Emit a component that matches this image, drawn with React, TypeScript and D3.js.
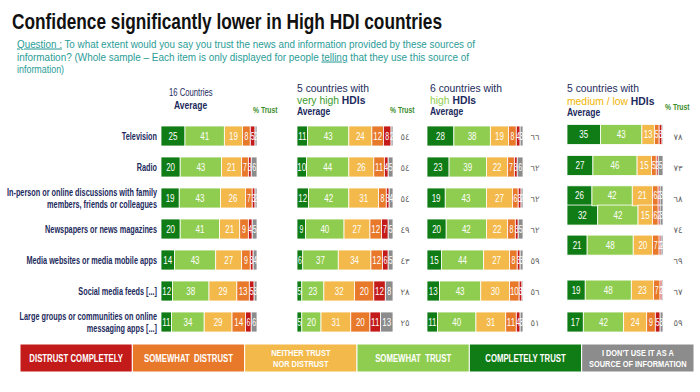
import React from "react";
import * as d3 from "d3";

// ---- data ----
const categories = [
  "Television",
  "Radio",
  "In-person or online discussions with family members, friends or colleagues",
  "Newspapers or news magazines",
  "Media websites or media mobile apps",
  "Social media feeds [...]",
  "Large groups or communities on online messaging apps [...]",
];
const categoryLines = [
  ["Television"],
  ["Radio"],
  ["In-person or online discussions with family", "members, friends or colleagues"],
  ["Newspapers or news magazines"],
  ["Media websites or media mobile apps"],
  ["Social media feeds [...]"],
  ["Large groups or communities on online", "messaging apps [...]"],
];

// completely trust, somewhat trust, neither, somewhat distrust, distrust completely, don't use
const responses = [
  "Completely trust",
  "Somewhat trust",
  "Neither trust nor distrust",
  "Somewhat distrust",
  "Distrust completely",
  "I don't use it as a source of information",
];

const all16 = [
  [25, 41, 19, 8, 5, 2],
  [20, 43, 21, 7, 3, 6],
  [19, 43, 26, 7, 3, 2],
  [20, 41, 21, 9, 4, 5],
  [14, 43, 27, 9, 3, 4],
  [12, 38, 29, 13, 5, 3],
  [11, 34, 29, 14, 6, 6],
];
const veryHigh = [
  [11, 43, 24, 12, 8, 2],
  [10, 44, 26, 11, 4, 5],
  [12, 42, 31, 8, 3, 4],
  [9, 40, 27, 12, 7, 5],
  [6, 37, 34, 12, 6, 5],
  [5, 23, 32, 20, 12, 8],
  [5, 20, 31, 20, 11, 13],
];
const high = [
  [28, 38, 19, 8, 4, 3],
  [23, 39, 22, 7, 3, 6],
  [19, 43, 27, 6, 3, 2],
  [20, 42, 22, 8, 3, 5],
  [15, 44, 27, 8, 3, 3],
  [13, 43, 30, 10, 3, 1],
  [11, 40, 31, 11, 4, 3],
];
const mediumLow = [
  [35, 43, 13, 5, 3, 1],
  [27, 46, 15, 5, 2, 5],
  [26, 42, 21, 6, 2, 3],
  [32, 42, 15, 6, 2, 3],
  [21, 48, 20, 7, 2, 2],
  [19, 48, 23, 7, 2, 1],
  [17, 42, 24, 9, 5, 3],
];
const trustVeryHigh = [54, 54, 54, 49, 43, 28, 25];
const trustHigh = [66, 62, 62, 62, 59, 56, 51];
const trustMediumLow = [78, 73, 68, 74, 69, 67, 59];

const legendLabels = [
  ["DISTRUST COMPLETELY"],
  ["SOMEWHAT  DISTRUST"],
  ["NEITHER TRUST", "NOR DISTRUST"],
  ["SOMEWHAT  TRUST"],
  ["COMPLETELY TRUST"],
  ["I DON'T USE IT AS A", "SOURCE OF INFORMATION"],
];

// ---- styling ----
const colors = ["#107c15", "#8fcd50", "#f3b94a", "#e8792a", "#c31a1a", "#8c8c8c"];
const legendOrder = [4, 3, 2, 1, 0, 5];
const navy = "#1c2a5c";
const teal = "#2a9c97";
const sans = "'Liberation Sans', Arial, sans-serif";

const W = 700;
const H = 392;
const barW = 96;
const barH = 20;

// the medium/low panel in the slide has its lower bars slightly out of step
const p4Shift = [-0.05, -0.05, -0.07, -0.45, -0.48, -0.03, 0];

const toArabic = (n: number) =>
  String(n).replace(/\d/g, (d) => "٠١٢٣٤٥٦٧٨٩"[+d]);

const panels = [
  { values: all16, trust: null as number[] | null, x0: 161, trustX: 0, shift: null as number[] | null },
  { values: veryHigh, trust: trustVeryHigh, x0: 297, trustX: 405, shift: null },
  { values: high, trust: trustHigh, x0: 427, trustX: 535, shift: null },
  { values: mediumLow, trust: trustMediumLow, x0: 567, trustX: 678, shift: p4Shift },
];

// condensed text: the slide uses a narrow face, so squeeze horizontally
function CText({ x, y, sx = 0.8, children, ...rest }: any) {
  return (
    <text transform={`translate(${x},${y}) scale(${sx},1)`} {...rest}>
      {children}
    </text>
  );
}

export default function App() {
  const y = d3.scalePoint<string>().domain(categories).range([136, 322]);
  const step = y.step();
  const stack = d3
    .stack<number[], number>()
    .keys(d3.range(responses.length))
    .value((d, k) => d[k]);

  const legendX = d3
    .scaleBand<number>()
    .domain(d3.range(legendOrder.length))
    .range([20, 694]);

  return (
    <svg
      width={W}
      height={H}
      style={{ position: "absolute", left: 0, top: 0, background: "#fff" }}
    >
      <text x={12} y={29} fontFamily={sans} fontWeight="bold" fontSize={22} fill="#111"
        textLength={430} lengthAdjust="spacingAndGlyphs">
        Confidence significantly lower in High HDI countries
      </text>
      <g fontFamily={sans} fontSize={10.5} fill={teal}>
        <text x={17} y={47.5} textLength={458} lengthAdjust="spacingAndGlyphs">
          <tspan textDecoration="underline">Question :</tspan> To what extent would you say you trust the news and information provided by these sources of
        </text>
        <text x={17} y={60.5} textLength={452} lengthAdjust="spacingAndGlyphs">
          information? (Whole sample – Each item is only displayed for people <tspan textDecoration="underline">telling</tspan> that they use this source of
        </text>
        <CText x={17} y={73} sx={0.85}>information)</CText>
      </g>

      {/* panel headers */}
      <g fontFamily={sans} fill={navy}>
        <CText x={169} y={96} sx={0.7} fontSize={11}>16 Countries</CText>
        <CText x={174} y={109} sx={0.85} fontSize={10} fontWeight="bold">Average</CText>

        <CText x={297} y={92} sx={0.9} fontSize={11.5}>5 countries with</CText>
        <CText x={297} y={104} sx={0.9} fontSize={11.5}>
          <tspan fill="#3a9a2a">very high </tspan>
          <tspan fontWeight="bold">HDIs</tspan>
        </CText>
        <CText x={297} y={115} sx={0.85} fontSize={10} fontWeight="bold">Average</CText>

        <CText x={430} y={92} sx={0.9} fontSize={11.5}>6 countries with</CText>
        <CText x={430} y={104} sx={0.9} fontSize={11.5}>
          <tspan fill="#8fcd50">high </tspan>
          <tspan fontWeight="bold">HDIs</tspan>
        </CText>
        <CText x={430} y={115} sx={0.85} fontSize={10} fontWeight="bold">Average</CText>

        <CText x={567} y={92} sx={0.9} fontSize={11.5}>5 countries with</CText>
        <CText x={567} y={105} sx={0.9} fontSize={11.5}>
          <tspan fill="#f0b400">medium / low </tspan>
          <tspan fontWeight="bold">HDIs</tspan>
        </CText>
        <CText x={567} y={116} sx={0.85} fontSize={10} fontWeight="bold">Average</CText>
      </g>
      <g fontFamily={sans} fontSize={8.5} fontWeight="bold" fill="#3b8c2b">
        <CText x={253} y={113} sx={0.8}>% Trust</CText>
        <CText x={390} y={113} sx={0.8}>% Trust</CText>
        <CText x={665} y={110} sx={0.8}>% Trust</CText>
      </g>

      {/* row labels */}
      <g fontFamily={sans} fontSize={10} fontWeight="bold" fill={navy} textAnchor="end">
        {categories.map((c, i) => {
          const lines = categoryLines[i];
          const cy = y(c)!;
          return lines.map((l, j) => (
            <CText key={c + j} x={157} y={cy + 3.5 + (j - (lines.length - 1) / 2) * 12} sx={0.73}>
              {l}
            </CText>
          ));
        })}
      </g>

      {/* bars */}
      {panels.map((p, pi) => {
        const x = d3.scaleLinear().domain([0, 100]).range([p.x0, p.x0 + barW]);
        const series = stack(p.values);
        return (
          <g key={pi}>
            {series.map((s, k) => (
              <g key={k}>
                {s.map((d, i) => {
                  const cy = y(categories[i])! + (p.shift ? p.shift[i] * step : 0);
                  const x0 = x(d[0]);
                  const x1 = x(d[1]);
                  return (
                    <g key={i}>
                      <rect
                        x={x0}
                        y={cy - barH / 2}
                        width={Math.max(0, x1 - x0)}
                        height={barH}
                        fill={colors[k]}
                        stroke="#fff"
                        strokeWidth={0.8}
                      />
                      <CText
                        x={(x0 + x1) / 2}
                        y={cy + 3.6}
                        sx={p.values[i][k] < 10 ? 0.7 : 0.8}
                        textAnchor="middle"
                        fontFamily={sans}
                        fontSize={10}
                        fill="#fff"
                      >
                        {p.values[i][k]}
                      </CText>
                    </g>
                  );
                })}
              </g>
            ))}
            {p.trust &&
              p.trust.map((t, i) => (
                <text
                  key={"t" + i}
                  x={p.trustX}
                  y={y(categories[i])! + 3.5}
                  textAnchor="middle"
                  fontFamily="'DejaVu Sans', sans-serif"
                  fontSize={8.5}
                  fill="#666"
                >
                  {toArabic(t)}
                </text>
              ))}
          </g>
        );
      })}

      {/* legend */}
      <g>
        {legendOrder.map((k, i) => {
          const lx = legendX(i)!;
          const lw = legendX.bandwidth();
          const lines = legendLabels[i];
          return (
            <g key={k}>
              <rect x={lx} y={344} width={lw} height={28} fill={colors[k]} stroke="#fff" strokeWidth={1} />
              {lines.map((l, j) => (
                <CText
                  key={j}
                  x={lx + lw / 2}
                  y={361.5 + (j - (lines.length - 1) / 2) * 11}
                  sx={0.78}
                  textAnchor="middle"
                  fontFamily={sans}
                  fontWeight="bold"
                  fontSize={lines.length > 1 ? 9.5 : 10}
                  fill="#fff"
                  style={{ whiteSpace: "pre" }}
                >
                  {l}
                </CText>
              ))}
            </g>
          );
        })}
      </g>
    </svg>
  );
}
